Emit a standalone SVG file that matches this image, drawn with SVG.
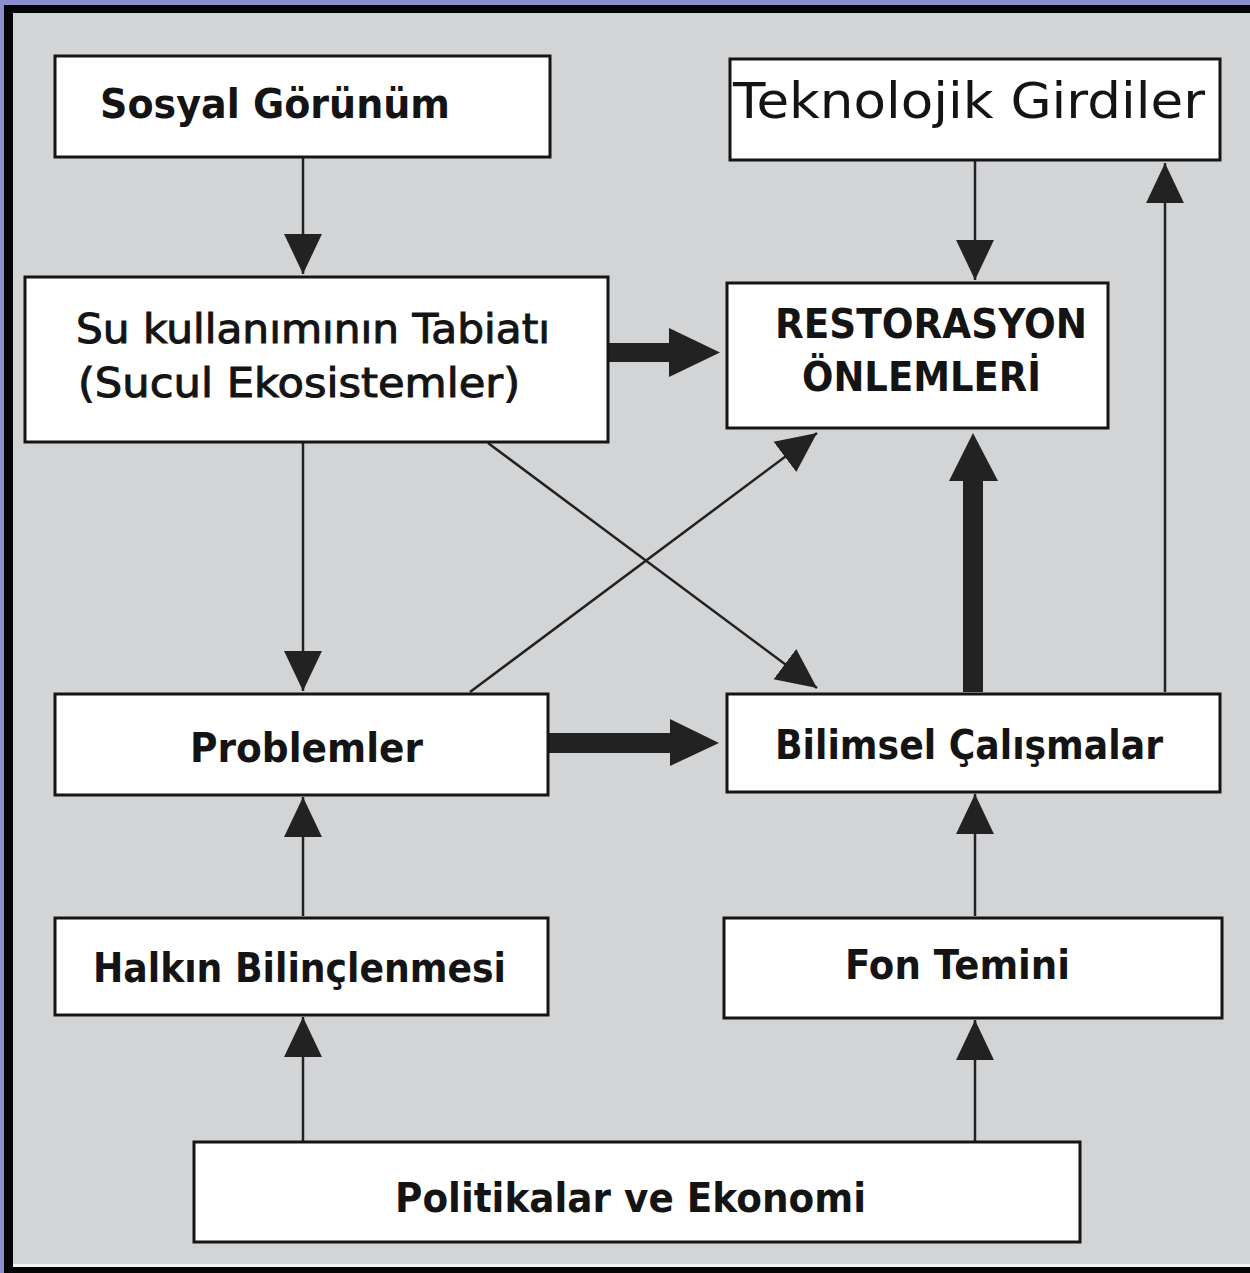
<svg xmlns="http://www.w3.org/2000/svg" width="1250" height="1273" viewBox="0 0 1250 1273">
<style>
.box{fill:#ffffff;stroke:#151515;stroke-width:3}
.t{font-family:"DejaVu Sans","Liberation Sans",sans-serif;font-weight:bold;font-size:40px;fill:#141414}
.tm{font-family:"DejaVu Sans","Liberation Sans",sans-serif;font-weight:normal;font-size:40px;fill:#141414;stroke:#141414;stroke-width:1}
.tr{font-family:"DejaVu Sans","Liberation Sans",sans-serif;font-weight:normal;font-size:50px;fill:#141414}
.thin{stroke:#222;stroke-width:2.5;fill:none}
.head{fill:#222}
</style>
<defs>
<marker id="ah" markerUnits="userSpaceOnUse" markerWidth="40" markerHeight="40" viewBox="0 0 38 36" refX="38" refY="18" orient="auto">
<path d="M0,0 L38,18 L0,36 Z" fill="#222"/>
</marker>
</defs>
<rect x="0" y="0" width="1250" height="1273" fill="#8a8ecc"/>
<rect x="4" y="5" width="1246" height="1268" fill="#050505"/>
<rect x="13" y="13" width="1237" height="1254" fill="#f4f4f4"/>
<rect x="13" y="13" width="1237" height="1251" fill="#d3d4d6"/>

<g id="connectors">
<line class="thin" x1="303" y1="158" x2="303" y2="274" marker-end="url(#ah)"/>
<line class="thin" x1="975" y1="161" x2="975" y2="280" marker-end="url(#ah)"/>
<line class="thin" x1="303" y1="443" x2="303" y2="691" marker-end="url(#ah)"/>
<line class="thin" x1="488" y1="443" x2="817" y2="688" marker-end="url(#ah)"/>
<line class="thin" x1="470" y1="692" x2="817" y2="433" marker-end="url(#ah)"/>
<line class="thin" x1="1165" y1="692" x2="1165" y2="163" marker-end="url(#ah)"/>
<line class="thin" x1="303" y1="916" x2="303" y2="797" marker-end="url(#ah)"/>
<line class="thin" x1="975" y1="916" x2="975" y2="794" marker-end="url(#ah)"/>
<line class="thin" x1="303" y1="1141" x2="303" y2="1017" marker-end="url(#ah)"/>
<line class="thin" x1="975" y1="1141" x2="975" y2="1020" marker-end="url(#ah)"/>
<rect class="head" x="609" y="343" width="64" height="19"/>
<path class="head" d="M669,328 L720,352.5 L669,377 Z"/>
<rect class="head" x="549" y="733" width="125" height="20"/>
<path class="head" d="M670,719 L719,743 L670,766 Z"/>
<rect class="head" x="963" y="476" width="20" height="216"/>
<path class="head" d="M949,481 L973,433 L998,481 Z"/>
</g>

<g id="sosyal">
<rect class="box" x="55" y="56" width="495" height="101"/>
<text class="t" x="100" y="118" textLength="350" lengthAdjust="spacingAndGlyphs">Sosyal Görünüm</text>
</g>
<g id="teknolojik">
<rect class="box" x="730" y="59" width="490" height="101"/>
<text class="tr" x="733" y="118" textLength="472" lengthAdjust="spacingAndGlyphs">Teknolojik Girdiler</text>
</g>
<g id="su">
<rect class="box" x="25" y="277" width="583" height="165"/>
<text class="tm" x="76" y="343" textLength="474" lengthAdjust="spacingAndGlyphs">Su kullanımının Tabiatı</text>
<text class="tm" x="78" y="397" textLength="442" lengthAdjust="spacingAndGlyphs">(Sucul Ekosistemler)</text>
</g>
<g id="restorasyon">
<rect class="box" x="727" y="283" width="381" height="145"/>
<text class="t" x="775" y="338" textLength="312" lengthAdjust="spacingAndGlyphs">RESTORASYON</text>
<text class="t" x="802" y="391" textLength="239" lengthAdjust="spacingAndGlyphs">ÖNLEMLERİ</text>
</g>
<g id="problemler">
<rect class="box" x="55" y="694" width="493" height="101"/>
<text class="t" x="190" y="762" textLength="233" lengthAdjust="spacingAndGlyphs">Problemler</text>
</g>
<g id="bilimsel">
<rect class="box" x="727" y="694" width="493" height="98"/>
<text class="t" x="775" y="759" textLength="388" lengthAdjust="spacingAndGlyphs">Bilimsel Çalışmalar</text>
</g>
<g id="halkin">
<rect class="box" x="55" y="918" width="493" height="97"/>
<text class="t" x="93" y="982" textLength="413" lengthAdjust="spacingAndGlyphs">Halkın Bilinçlenmesi</text>
</g>
<g id="fon">
<rect class="box" x="724" y="918" width="498" height="100"/>
<text class="t" x="845" y="979" textLength="225" lengthAdjust="spacingAndGlyphs">Fon Temini</text>
</g>
<g id="politikalar">
<rect class="box" x="194" y="1142" width="886" height="100"/>
<text class="t" x="395" y="1212" textLength="471" lengthAdjust="spacingAndGlyphs">Politikalar ve Ekonomi</text>
</g>
</svg>
